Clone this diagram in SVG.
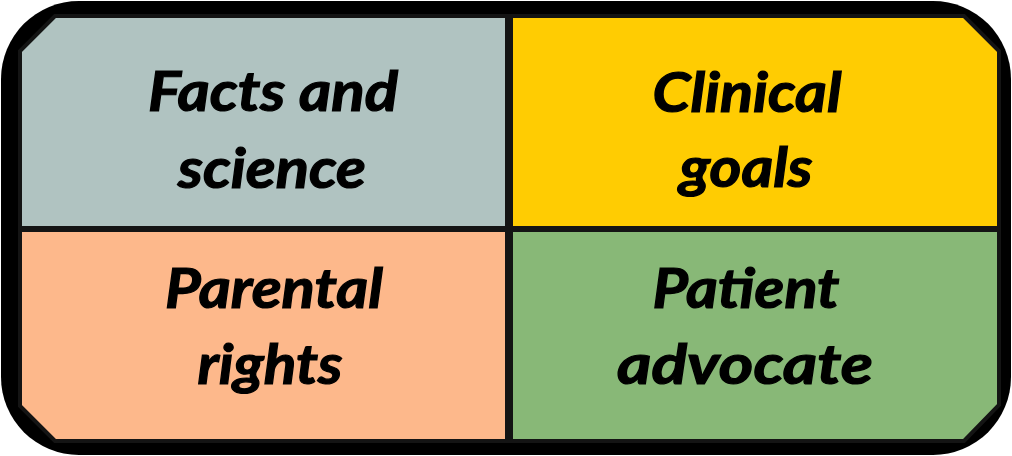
<svg xmlns="http://www.w3.org/2000/svg" width="1012" height="456" viewBox="0 0 1012 456">
  <style>
    .q { stroke: #141414; stroke-width: 4; stroke-linejoin: miter; }
    .t { font-family: Lato, "Liberation Sans", sans-serif; font-weight: bold; font-style: italic; font-size: 55px; fill: #000; stroke: #000; stroke-width: 1.2; text-anchor: middle; }
  </style>
  <rect id="frame" x="1" y="1" width="1010" height="454" rx="78" ry="78" fill="#000"/>
  <g id="facts">
    <polygon class="q" fill="#B0C3C1" points="55,16 507,16 507,228 20,228 20,51"/>
    <text class="t" x="273" y="111" textLength="250" lengthAdjust="spacingAndGlyphs">Facts and</text>
    <text class="t" x="272" y="188" textLength="188" lengthAdjust="spacingAndGlyphs">science</text>
  </g>
  <g id="clinical">
    <polygon class="q" fill="#FFCC02" points="511,16 964,16 999,51 999,228 511,228"/>
    <text class="t" x="747" y="112" textLength="189" lengthAdjust="spacingAndGlyphs">Clinical</text>
    <text class="t" x="746" y="187" textLength="133" lengthAdjust="spacingAndGlyphs">goals</text>
  </g>
  <g id="parental">
    <polygon class="q" fill="#FDB88B" points="20,230 507,230 507,441 55,441 20,406"/>
    <text class="t" x="274" y="308" textLength="218" lengthAdjust="spacingAndGlyphs">Parental</text>
    <text class="t" x="270" y="384" textLength="145" lengthAdjust="spacingAndGlyphs">rights</text>
  </g>
  <g id="patient">
    <polygon class="q" fill="#88B877" points="511,230 999,230 999,405 964,441 511,441"/>
    <text class="t" x="746" y="308" textLength="187" lengthAdjust="spacingAndGlyphs">Patient</text>
    <text class="t" x="745" y="384" textLength="256" lengthAdjust="spacingAndGlyphs">advocate</text>
  </g>
</svg>
